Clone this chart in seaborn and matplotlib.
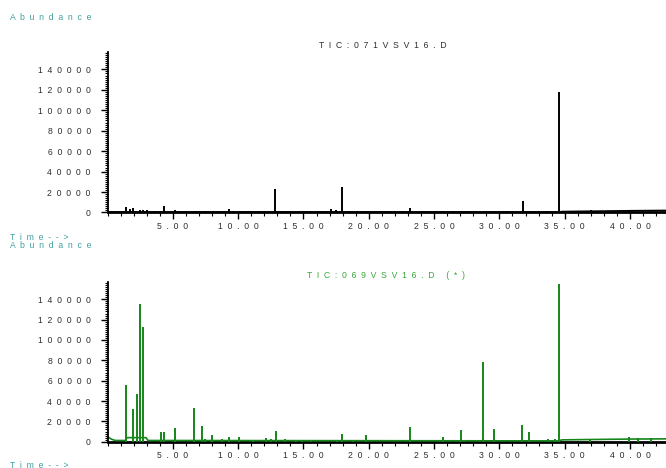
import numpy as np
import pandas as pd
import seaborn as sns
import matplotlib
matplotlib.use("Agg")
import matplotlib.pyplot as plt
from matplotlib.ticker import FixedLocator, MultipleLocator, FuncFormatter

# ---------------- data ----------------
x_major_ticks = [5, 10, 15, 20, 25, 30, 35, 40]
y_major_ticks = [0, 20000, 40000, 60000, 80000, 100000, 120000, 140000]

title_top = "TIC:071VSV16.D"
title_bottom = "TIC:069VSV16.D"

# top chromatogram (black)
top_peak_times = [1.42, 1.70, 1.93, 2.49, 2.74, 3.00, 4.32, 5.16, 7.0, 9.30, 9.6, 11.20,
                  12.79, 13.3, 15.57, 17.08, 17.46, 17.92, 20.85, 21.4, 23.14, 25.7, 27.0,
                  31.77, 34.57, 37.0, 39.9]
top_peak_heights = [5000, 3000, 4000, 2000, 2000, 2000, 6500, 2000, 1500, 3000, 1500, 1500,
                    22500, 1500, 1000, 3000, 2000, 24500, 1500, 1200, 4300, 1500, 1200,
                    11000, 117500, 2500, 2500]
top_base_times = [0.0, 34.5, 34.8, 36.0, 38.0, 40.0, 42.75]
top_base_levels = [400, 400, 900, 1100, 1400, 1700, 2000]

# bottom chromatogram (green)
bot_peak_times = [1.42, 1.93, 2.23, 2.49, 2.72, 4.07, 4.32, 5.14, 6.62, 7.21, 7.48, 8.00,
                  8.74, 9.30, 10.04, 11.13, 12.10, 12.49, 12.87, 13.56, 14.42, 14.88, 15.57,
                  17.54, 17.96, 18.81, 19.75, 23.14, 25.67, 27.05, 27.30, 28.71, 29.59,
                  31.74, 32.23, 33.68, 34.22, 34.57, 36.9, 39.88, 40.6, 41.6]
bot_peak_heights = [55500, 32000, 47300, 135400, 112600, 9500, 9500, 13400, 33000, 15000, 3000,
                    6900, 3000, 4600, 4200, 2000, 4000, 3000, 10400, 2500, 1500, 1500, 1500,
                    1500, 7500, 1500, 6500, 14400, 4600, 11100, 2000, 78000, 12000,
                    16300, 10000, 2500, 3000, 155000, 2800, 4600, 3500, 3200]
bot_base_times = [0.0, 0.3, 0.6, 1.40, 1.46, 2.95, 3.10, 34.5, 34.8, 36.0, 38.0, 40.0, 42.75]
bot_base_levels = [5000, 2500, 1200, 1200, 4000, 4000, 1200, 800, 1800, 2000, 2300, 2600, 2800]

# ---------------- style ----------------
sns.set_style("ticks")
plt.rcParams["font.family"] = ["Liberation Sans", "DejaVu Sans"]

W, H = 666, 468
TEAL = "#3f9f9f"
TICKC = "#2e2e2e"
GREEN_LINE = "#15861a"
GREEN_TEXT = "#38a838"


def spaced(s, gap="  "):
    return gap.join(list(s))


fig = plt.figure(figsize=(W / 100, H / 100), dpi=100)

left_px = 107.5


def make_axes(top_px, bottom_px):
    return fig.add_axes([left_px / W, 1 - bottom_px / H, 1 - left_px / W,
                         (bottom_px - top_px) / H])


ax1 = make_axes(52, 212.5)
ax2 = make_axes(282, 441.7)


def draw(ax, bt, bl, pt, ph, color):
    base = pd.DataFrame({"t": bt, "a": bl})
    sns.lineplot(data=base, x="t", y="a", ax=ax, color=color, lw=1.2,
                 estimator=None, sort=True)
    ax.vlines(pt, 0, ph, color=color, lw=1.4)
    ax.set_xlim(0, 42.75)
    ax.set_ylim(0, 157000)
    ax.set_xlabel("")
    ax.set_ylabel("")
    for s in ["top", "right"]:
        ax.spines[s].set_visible(False)
    ax.spines["bottom"].set_linewidth(2.0)
    ax.spines["left"].set_linewidth(1.3)
    ax.spines["bottom"].set_color("black")
    ax.spines["left"].set_color("black")
    ax.spines["bottom"].set_zorder(1)
    ax.xaxis.set_major_locator(FixedLocator(x_major_ticks))
    ax.xaxis.set_minor_locator(MultipleLocator(1))
    ax.yaxis.set_major_locator(FixedLocator(y_major_ticks))
    ax.yaxis.set_minor_locator(MultipleLocator(2000))
    ax.xaxis.set_major_formatter(FuncFormatter(lambda v, p: spaced(f"{v:.2f}")))
    ax.yaxis.set_major_formatter(FuncFormatter(lambda v, p: spaced(f"{int(v)}")))
    ax.tick_params(axis="x", which="major", length=5, width=1, direction="out",
                   pad=2, labelsize=6.2, labelcolor=TICKC, color="black")
    ax.tick_params(axis="x", which="minor", length=3, width=0.8, direction="out",
                   color="black")
    ax.tick_params(axis="y", which="major", length=5, width=1, direction="out",
                   pad=7, labelsize=6.2, labelcolor=TICKC, color="black")
    ax.tick_params(axis="y", which="minor", length=2.5, width=0.8, direction="out",
                   color="black")
    ax.set_facecolor("white")


draw(ax1, top_base_times, top_base_levels, top_peak_times, top_peak_heights, "black")
draw(ax2, bot_base_times, bot_base_levels, bot_peak_times, bot_peak_heights, GREEN_LINE)


def ftext(xp, yp, s, color, ha="left"):
    fig.text(xp / W, 1 - yp / H, s, color=color, fontsize=6.2, ha=ha, va="center")


ftext(10, 17, spaced("Abundance"), TEAL)
ftext(383, 46, spaced(title_top), TICKC, ha="center")
ftext(10, 237, spaced("Time-->"), TEAL)
ftext(10, 246, spaced("Abundance"), TEAL)
ftext(386, 275, spaced(title_bottom) + "     " + spaced("(*)"), GREEN_TEXT, ha="center")
ftext(10, 465, spaced("Time-->"), TEAL)

fig.savefig("out.png", dpi=100, facecolor="white")
